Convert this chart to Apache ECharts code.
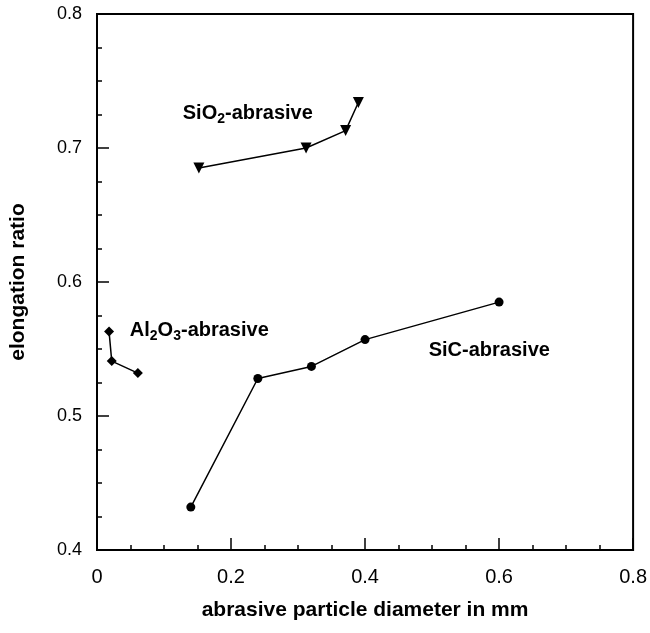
<!DOCTYPE html>
<html>
<head>
<meta charset="utf-8">
<script src="https://cdn.jsdelivr.net/npm/echarts@6/dist/echarts.min.js"></script>
<style>
  html, body { margin: 0; padding: 0; background: #fff; }
  #chart { width: 650px; height: 633px; }
</style>
</head>
<body>
<div id="chart"></div>
<script>
// values
const sicX = [0.14, 0.24, 0.32, 0.40, 0.60];
const sicY = [0.432, 0.528, 0.537, 0.557, 0.585];
const al2o3X = [0.018, 0.022, 0.061];
const al2o3Y = [0.563, 0.541, 0.532];
const sio2X = [0.152, 0.312, 0.371, 0.390];
const sio2Y = [0.685, 0.700, 0.713, 0.734];

// where the series names sit (data coords, left edge of text)
const labelSio2 = [0.128, 0.726];
const labelAl2o3 = [0.049, 0.564];
const labelSic = [0.495, 0.549];

const fontFamily = "'Liberation Sans', Arial, sans-serif";

const pairs = (xs, ys) => xs.map((x, i) => [x, ys[i]]);

const richStyle = {
  a: { fontFamily, fontWeight: 'bold', fontSize: 20, color: '#000' },
  s: { fontFamily, fontWeight: 'bold', fontSize: 14, color: '#000', padding: [11, 0, 0, 0] }
};

function nameLabel(coord, text) {
  return {
    silent: true,
    symbol: 'circle',
    symbolSize: 0,
    data: [{
      coord,
      label: {
        show: true,
        position: 'right',
        distance: 0,
        formatter: text,
        rich: richStyle
      }
    }]
  };
}

const chart = echarts.init(document.getElementById('chart'));

const axisCommon = {
  axisLine: { lineStyle: { color: '#000', width: 2 } },
  axisTick: { show: true, inside: true, length: 12, lineStyle: { color: '#000', width: 1.5 } },
  minorTick: { show: true, splitNumber: 4, length: 5, lineStyle: { color: '#000', width: 1.5 } },
  splitLine: { show: false },
  nameTextStyle: { fontFamily, fontWeight: 'bold', fontSize: 21, color: '#000' }
};

chart.setOption({
  animation: false,
  backgroundColor: '#fff',
  grid: {
    left: 97, right: 15, top: 14, bottom: 83,
    show: true, borderColor: '#000', borderWidth: 2
  },
  xAxis: Object.assign({}, axisCommon, {
    type: 'value',
    min: 0, max: 0.8, interval: 0.2,
    name: 'abrasive particle diameter in mm',
    nameLocation: 'middle',
    nameGap: 50,
    axisLabel: {
      margin: 17, fontFamily, fontSize: 20, color: '#000',
      formatter: v => v === 0 ? '0' : v.toFixed(1)
    }
  }),
  yAxis: Object.assign({}, axisCommon, {
    type: 'value',
    min: 0.4, max: 0.8, interval: 0.1,
    name: 'elongation ratio',
    nameLocation: 'middle',
    nameGap: 68,
    axisLabel: {
      margin: 15, fontFamily, fontSize: 18, color: '#000',
      formatter: v => v.toFixed(1)
    }
  }),
  series: [
    {
      name: 'SiC-abrasive',
      type: 'line',
      data: pairs(sicX, sicY),
      symbol: 'circle',
      symbolSize: 9,
      lineStyle: { color: '#000', width: 1.5 },
      itemStyle: { color: '#000' },
      markPoint: nameLabel(labelSic, '{a|SiC-abrasive}')
    },
    {
      name: 'Al2O3-abrasive',
      type: 'line',
      data: pairs(al2o3X, al2o3Y),
      symbol: 'diamond',
      symbolSize: 10,
      lineStyle: { color: '#000', width: 1.5 },
      itemStyle: { color: '#000' },
      markPoint: nameLabel(labelAl2o3, '{a|Al}{s|2}{a|O}{s|3}{a|-abrasive}')
    },
    {
      name: 'SiO2-abrasive',
      type: 'line',
      data: pairs(sio2X, sio2Y),
      symbol: 'triangle',
      symbolRotate: 180,
      symbolSize: 11,
      lineStyle: { color: '#000', width: 1.5 },
      itemStyle: { color: '#000' },
      markPoint: nameLabel(labelSio2, '{a|SiO}{s|2}{a|-abrasive}')
    }
  ]
});
</script>
</body>
</html>
